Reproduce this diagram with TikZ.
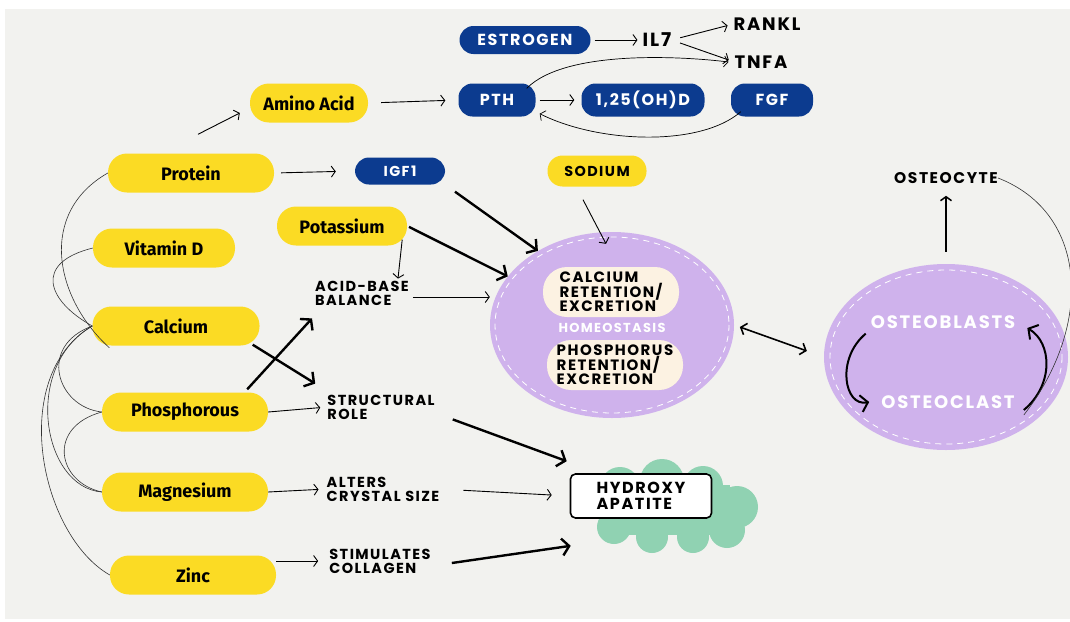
\documentclass[tikz,border=0pt]{standalone}
\usepackage{fontspec}
\setmainfont{Fira Sans}
\newfontfamily\capsfont{Poppins}[LetterSpace=10]
\usetikzlibrary{arrows.meta,shapes.geometric}
\definecolor{PaperGray}{HTML}{F2F2EF}
\definecolor{NutYellow}{HTML}{FBDB24}
\definecolor{HormBlue}{HTML}{0C3B8F}
\definecolor{Lavender}{HTML}{CFB2EC}
\definecolor{Cream}{HTML}{FCF2E2}
\definecolor{Mint}{HTML}{90D2B2}

\begin{document}
\begin{tikzpicture}[x=1pt,y=-1pt,
    nutrient/.style={fill=NutYellow,rounded corners=19pt,minimum height=39pt,inner sep=0pt,
      font=\bfseries\fontsize{18}{20}\selectfont},
    hormone/.style={fill=HormBlue,text=white,rounded corners=14pt,minimum height=33pt,inner sep=0pt,
      font=\capsfont\bfseries\fontsize{16}{18}\selectfont},
    tag/.style={inner sep=0pt,align=left,font=\capsfont\bfseries\fontsize{14.5}{14}\selectfont},
    pool/.style={ellipse,fill=Lavender,minimum width=244pt,minimum height=186pt,inner sep=0pt},
    pill/.style={fill=Cream,rounded corners=24pt,minimum width=136pt,minimum height=50pt,
      inner sep=0pt,align=left,font=\capsfont\bfseries\fontsize{15}{14}\selectfont},
    thinarr/.style={-{Straight Barb[length=4pt,width=11pt]},line width=0.9pt},
    thickarr/.style={-{Straight Barb[length=7pt,width=17pt]},line width=2.4pt},
    link/.style={line width=0.6pt,black!80}
  ]
  \useasboundingbox (0,0) rectangle (1070,621);
  \clip (0,0) rectangle (1070,621);
  \fill[PaperGray] (5,9) rectangle (1070,619);

  \node[nutrient,minimum width=166pt] (protein) at (191,173) {Protein};
  \node[nutrient,minimum width=142pt] (vitd) at (164,248) {Vitamin D};
  \node[nutrient,minimum width=167pt] (calcium) at (176,326) {Calcium};
  \node[nutrient,minimum width=166pt] (phos) at (185,412) {Phosphorous};
  \node[nutrient,minimum width=166pt] (magnesium) at (185,492) {Magnesium};
  \node[nutrient,minimum width=166pt] (zinc) at (193,575) {Zinc};
  \node[nutrient,minimum width=118pt] (amino) at (309,103) {Amino Acid};
  \node[nutrient,minimum width=130pt] (potassium) at (342,226) {Potassium};
  \node[nutrient,minimum width=99pt,minimum height=31pt,rounded corners=15pt,
    font=\capsfont\bfseries\fontsize{14.4}{16}\selectfont] (sodium) at (597,171) {SODIUM};

  \node[hormone,minimum width=131pt,minimum height=28pt] (estrogen) at (525,40) {ESTROGEN};
  \node[hormone,minimum width=77pt] (pth) at (497,100) {PTH};
  \node[hormone,minimum width=123pt] (calcitriol) at (643,100) {1,25(OH)D};
  \node[hormone,minimum width=82pt] (fgf) at (772,100) {FGF};
  \node[hormone,minimum width=90pt,minimum height=27pt,
    font=\capsfont\bfseries\fontsize{14.4}{16}\selectfont] (igf) at (400,171) {IGF1};

  \node[tag,font=\capsfont\bfseries\fontsize{19}{21}\selectfont] (il7) at (657,40) {IL7};
  \node[tag,font=\capsfont\bfseries\fontsize{18}{20}\selectfont] (rankl) at (767,24) {RANKL};
  \node[tag,font=\capsfont\bfseries\fontsize{18}{20}\selectfont] (tnfa) at (761,62) {TNFA};
  \node[tag] (acidbase) at (362,293) {ACID-BASE\\BALANCE};
  \node[tag] (structural) at (381,407) {STRUCTURAL\\ROLE};
  \node[tag] (crystal) at (383,489) {ALTERS\\CRYSTAL SIZE};
  \node[tag] (collagen) at (380,561) {STIMULATES\\COLLAGEN};
  \node[tag,font=\capsfont\bfseries\fontsize{15.5}{17}\selectfont] (osteocyte) at (946,178) {OSTEOCYTE};

  \node[pool] (homeo) at (612,325) {};
  \draw[white,line width=0.8pt,dash pattern=on 6pt off 5pt] (homeo.center) ellipse [x radius=117,y radius=88];
  \node[pill] (calret) at (611,292) {CALCIUM\\RETENTION/\\EXCRETION};
  \node[pill] (phosret) at (615,365) {PHOSPHORUS\\RETENTION/\\EXCRETION};
  \node[tag,text=white,font=\capsfont\bfseries\fontsize{13}{15}\selectfont] (homeotext) at (612,328) {HOMEOSTASIS};

  \node[pool] (osteo) at (946,357) {};
  \draw[white,line width=0.8pt,dash pattern=on 6pt off 5pt] (osteo.center) ellipse [x radius=116,y radius=87];
  \node[tag,text=white,font=\capsfont\bfseries\fontsize{18}{20}\selectfont] (blasts) at (943,322) {OSTEOBLASTS};
  \node[tag,text=white,font=\capsfont\bfseries\fontsize{18}{20}\selectfont] (clast) at (948,402) {OSTEOCLAST};

  \foreach \cx/\cy/\r in {620/487/20,662/481/22,703/486/20,737/507/21,727/530/18,
      693/537/16,652/537/16,614/527/17,608/505/14}
    \fill[Mint] (\cx,\cy) circle (\r);
  \fill[Mint] (612,485) rectangle (730,535);
  \node[draw,fill=white,line width=1.6pt,rounded corners=5pt,minimum width=141pt,minimum height=44pt,
    inner sep=0pt,align=left,font=\capsfont\bfseries\fontsize{16}{16}\selectfont] (hydroxy) at (641,496) {HYDROXY\\APATITE};

  \draw[link] (protein.west) .. controls +(-70,40) and +(-55,-50) .. ([shift={(17,2)}]calcium.south west);
  \draw[link] (vitd.west) .. controls +(-60,15) and +(-45,-25) .. (calcium.west);
  \draw[link] (calcium.west) .. controls +(-55,20) and +(-45,-5) .. (phos.west);
  \draw[link] (calcium.west) .. controls +(-70,40) and +(-60,-5) .. (magnesium.west);
  \draw[link] (calcium.west) .. controls +(-85,50) and +(-70,-40) .. (zinc.west);
  \draw[link] (phos.west) .. controls +(-55,15) and +(-45,-10) .. (magnesium.west);

  \draw[thinarr] ([shift={(7,-19)}]protein.north) -- ([shift={(-10,10)}]amino.west);
  \draw[thinarr,shorten <=13pt,shorten >=13pt] (amino.east) -- (pth.west);
  \draw[thinarr,shorten <=7pt,shorten >=19pt] (protein.east) -- (igf.west);
  \draw[thinarr,shorten <=4pt,shorten >=5pt] (estrogen.east) -- (il7.west);
  \draw[thinarr,shorten <=9pt,shorten >=6pt] (il7.east) -- (rankl.west);
  \draw[thinarr,shorten <=9pt,shorten >=6pt] (il7.east) -- (tnfa.west);
  \draw[thinarr,shorten <=4pt,shorten >=7pt] (pth.east) -- (calcitriol.west);
  \draw[thinarr,line width=0.7pt] ([shift={(-9,5)}]pth.north east) .. controls +(40,-40) and +(-40,-5) .. ([xshift=-6pt]tnfa.west);
  \draw[thinarr,line width=0.7pt] ([shift={(10,-5)}]fgf.south west) .. controls +(-40,35) and +(60,30) .. ([shift={(4,-3)}]pth.south east);

  \draw[thickarr,shorten <=12pt] (igf.south east) -- (homeo.135);
  \draw[thickarr,shorten <=2pt] (potassium.east) -- (homeo.155);
  \draw[thinarr] ([shift={(-14,13)}]sodium.south) -- ([shift={(-6,12)}]homeo.north);
  \draw[thinarr] ([shift={(-5,-6)}]potassium.south east) -- ([shift={(-11,-2)}]acidbase.north east);
  \draw[thinarr,shorten <=4pt] ([yshift=-4pt]acidbase.east) -- ([yshift=-4pt]acidbase.east -| homeo.west);
  \draw[thickarr] ([shift={(-7,-1)}]calcium.south east) -- ([shift={(-12,-11)}]structural.north west);
  \draw[thickarr] ([shift={(-21,-3)}]phos.north east) -- ([shift={(-3,13)}]acidbase.south west);
  \draw[thinarr,shorten >=7pt] (phos.east) -- (structural.west);
  \draw[thickarr] ([xshift=18pt]structural.south east) -- ([shift={(-3,-12)}]hydroxy.north west);
  \draw[thinarr,shorten >=8pt] (magnesium.east) -- (crystal.west);
  \draw[thinarr,shorten <=24pt,shorten >=18pt] (crystal.east) -- (hydroxy.west);
  \draw[thinarr,shorten >=11pt] (zinc.east |- collagen.west) -- (collagen.west);
  \draw[thickarr] ([shift={(21,2)}]collagen.east) -- ([shift={(1,27)}]hydroxy.south west);

  \draw[{Straight Barb[length=5pt,width=12pt]}-{Straight Barb[length=5pt,width=12pt]},line width=1.6pt,
    shorten <=6pt,shorten >=18pt] (homeo.east) -- (osteo.west);
  \draw[thinarr,line width=1.5pt,shorten <=12pt,shorten >=12pt] (osteo.north) -- (osteocyte.south);
  \draw[thickarr,line width=2pt] ([shift={(-5,5)}]blasts.south west) .. controls +(-30,25) and +(-25,5) .. ([xshift=-12pt]clast.west);
  \draw[thickarr,line width=2pt] ([shift={(9,8)}]clast.east) .. controls +(30,-25) and +(25,15) .. ([shift={(12,6)}]blasts.east);
  \draw[link] (osteocyte.east) .. controls +(90,35) and +(70,-90) .. ([shift={(9,13)}]clast.east);
\end{tikzpicture}
\end{document}
